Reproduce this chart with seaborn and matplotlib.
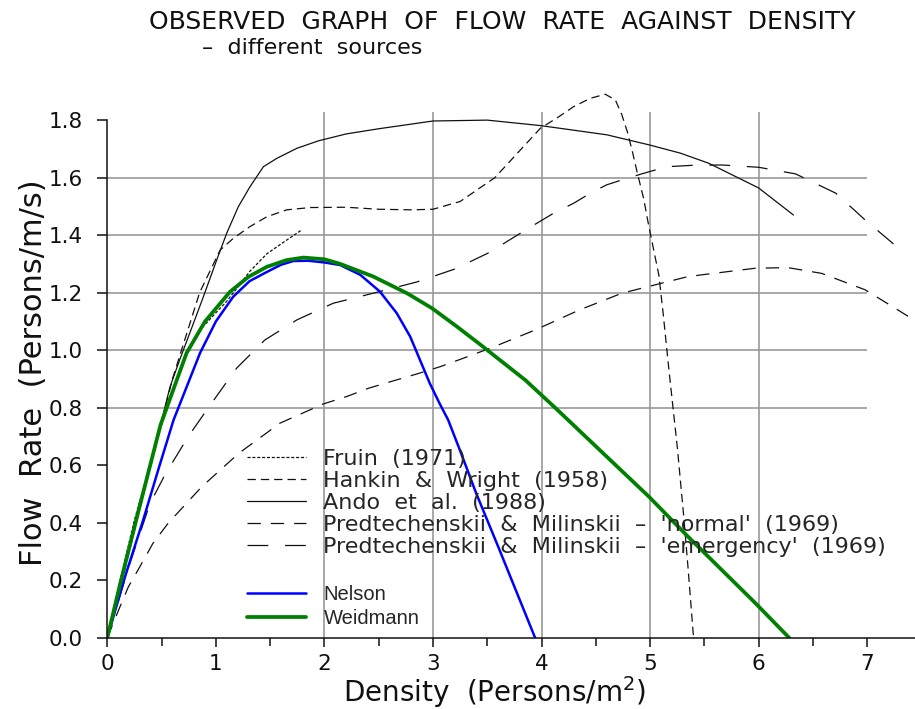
import matplotlib
matplotlib.use("Agg")
import matplotlib.pyplot as plt
import seaborn as sns
from matplotlib.ticker import MultipleLocator, FixedLocator

# ---------------- data ----------------
fruin_x = [0, 0.1, 0.25, 0.5, 0.73, 0.854, 1.0, 1.1, 1.193, 1.315, 1.469, 1.622, 1.79]
fruin_y = [0, 0.17, 0.41, 0.74, 0.99, 1.07, 1.13, 1.17, 1.215, 1.275, 1.335, 1.375, 1.418]

hankin_x = [0, 0.15, 0.3, 0.6, 0.85, 1.039, 1.161, 1.315, 1.469, 1.653, 1.87, 2.2, 2.5, 2.8,
            3.0, 3.25, 3.57, 3.99, 4.14, 4.296, 4.45, 4.587, 4.68, 4.74, 4.79, 4.837, 4.883,
            4.94, 4.986, 5.03, 5.08, 5.12, 5.175, 5.25, 5.31, 5.35, 5.4]
hankin_y = [0, 0.22, 0.45, 0.9, 1.2, 1.348, 1.389, 1.43, 1.464, 1.488, 1.496, 1.497, 1.49, 1.488,
            1.49, 1.517, 1.60, 1.772, 1.807, 1.847, 1.876, 1.89, 1.87, 1.818, 1.76, 1.69, 1.615,
            1.528, 1.435, 1.354, 1.262, 1.128, 0.925, 0.664, 0.42, 0.24, 0.0]

ando_x = [0, 0.15, 0.3, 0.45, 0.578, 0.67, 0.775, 0.885, 1.008, 1.10, 1.207, 1.315, 1.438,
          1.561, 1.746, 1.945, 2.2, 2.5, 3.0, 3.5, 3.99, 4.6, 4.99, 5.28, 5.54, 6.0, 6.32]
ando_y = [0, 0.24, 0.47, 0.68, 0.873, 0.97, 1.075, 1.186, 1.314, 1.407, 1.499, 1.569, 1.638,
          1.667, 1.702, 1.728, 1.752, 1.77, 1.797, 1.8, 1.781, 1.749, 1.714, 1.685, 1.65, 1.564, 1.47]

pm_normal_x = [0, 0.117, 0.194, 0.30, 0.42, 0.56, 0.716, 0.87, 1.04, 1.21, 1.59, 1.99, 2.2,
               2.41, 2.66, 2.85, 3.07, 3.28, 3.55, 3.94, 4.35, 4.74, 5.35, 5.97, 6.27, 6.58,
               6.98, 7.38]
pm_normal_y = [0, 0.108, 0.177, 0.247, 0.328, 0.398, 0.462, 0.525, 0.583, 0.641, 0.746, 0.813,
               0.838, 0.868, 0.896, 0.917, 0.943, 0.972, 1.01, 1.07, 1.14, 1.198, 1.256, 1.285,
               1.287, 1.267, 1.21, 1.117]

pm_emerg_x = [0, 0.2, 0.394, 0.53, 0.746, 0.916, 1.19, 1.45, 1.745, 2.08, 2.47, 2.85, 3.2,
              3.51, 3.88, 4.11, 4.296, 4.45, 4.60, 4.79, 4.94, 5.156, 5.4, 5.66, 6.0, 6.34,
              6.71, 6.98, 7.34]
pm_emerg_y = [0, 0.25, 0.467, 0.566, 0.70, 0.792, 0.937, 1.035, 1.105, 1.163, 1.2, 1.237, 1.282,
              1.338, 1.424, 1.476, 1.511, 1.546, 1.575, 1.598, 1.615, 1.638, 1.643, 1.644, 1.636,
              1.613, 1.546, 1.453, 1.338]

nelson_x = [0, 0.163, 0.33, 0.478, 0.61, 0.854, 1.0, 1.16, 1.31, 1.47, 1.6, 1.714, 1.85, 2.0,
            2.145, 2.33, 2.51, 2.667, 2.79, 2.88, 2.97, 3.06, 3.14, 3.25, 3.4, 3.6, 3.94]
nelson_y = [0, 0.212, 0.409, 0.595, 0.757, 0.99, 1.10, 1.186, 1.24, 1.272, 1.297, 1.31, 1.311,
            1.305, 1.296, 1.262, 1.204, 1.128, 1.047, 0.966, 0.885, 0.815, 0.757, 0.65, 0.5,
            0.317, 0.0]

weidmann_x = [0, 0.12, 0.3, 0.49, 0.73, 0.9, 1.13, 1.3, 1.47, 1.65, 1.806, 2.0, 2.145, 2.45,
              2.76, 2.99, 3.22, 3.42, 3.85, 4.13, 4.99, 5.35, 5.97, 6.28]
weidmann_y = [0, 0.19, 0.46, 0.74, 0.99, 1.1, 1.203, 1.255, 1.29, 1.313, 1.322, 1.316, 1.30,
              1.256, 1.198, 1.146, 1.082, 1.024, 0.896, 0.798, 0.49, 0.351, 0.12, 0.0]

labels = ["Fruin  (1971)",
          "Hankin  &  Wright  (1958)",
          "Ando  et  al.  (1988)",
          "Predtechenskii  &  Milinskii  \u2013  'normal'  (1969)",
          "Predtechenskii  &  Milinskii  \u2013  'emergency'  (1969)"]
model_labels = ["Nelson", "Weidmann"]

x_ticks = [0, 1, 2, 3, 4, 5, 6, 7]
y_ticks = [0.0, 0.2, 0.4, 0.6, 0.8, 1.0, 1.2, 1.4, 1.6, 1.8]
y_tick_labels = ["0.0", "0.2", "0.4", "0.6", "0.8", "1.0", "1.2", "1.4", "1.6", "1.8"]

# ---------------- style ----------------
sns.set_style("white")
plt.rcParams["font.family"] = ["DejaVu Sans"]
plt.rcParams["lines.scale_dashes"] = False
plt.rcParams["mathtext.fontset"] = "dejavusans"

fig = plt.figure(figsize=(9.15, 7.09), dpi=100)
ax = fig.add_axes([0.1173, 0.1006, 0.8827, 0.7908])
ax.set_xlim(0, 7.44)
ax.set_ylim(0, 1.95)

grid_c = "#9a9a9a"
ax.hlines([0.8, 1.0, 1.2, 1.4, 1.6], 0, 7, colors=grid_c, linewidth=1.2, zorder=0)
ax.vlines([2, 3, 4, 5, 6], 0, 1.83, colors=grid_c, linewidth=1.2, zorder=0)

blk = "#111111"
series = [
    (fruin_x, fruin_y, (0, (2.2, 1.3))),
    (hankin_x, hankin_y, (0, (6.0, 3.6))),
    (ando_x, ando_y, "-"),
    (pm_normal_x, pm_normal_y, (0, (9.6, 7.2))),
    (pm_emerg_x, pm_emerg_y, (0, (15.0, 12.0))),
]
handles = []
for xs, ys, ls in series:
    sns.lineplot(x=xs, y=ys, ax=ax, color=blk, linewidth=0.9, linestyle=ls,
                 sort=False, estimator=None)
    handles.append(ax.lines[-1])

sns.lineplot(x=nelson_x, y=nelson_y, ax=ax, color="#0000ff", linewidth=1.8,
             sort=False, estimator=None)
h_nelson = ax.lines[-1]
sns.lineplot(x=weidmann_x, y=weidmann_y, ax=ax, color="#008000", linewidth=2.7,
             sort=False, estimator=None)
h_weid = ax.lines[-1]

# ---------------- axes ----------------
for s in ["top", "right"]:
    ax.spines[s].set_visible(False)
for s in ["left", "bottom"]:
    ax.spines[s].set_color(blk)
    ax.spines[s].set_linewidth(1.1)
ax.spines["left"].set_bounds(0, 1.8)

ax.xaxis.set_major_locator(FixedLocator(x_ticks))
ax.xaxis.set_minor_locator(MultipleLocator(0.5))
ax.set_xticklabels([str(t) for t in x_ticks])
ax.yaxis.set_major_locator(FixedLocator(y_ticks))
ax.set_yticklabels(y_tick_labels)
ax.tick_params(axis="y", direction="out", length=7.2, width=1.1, pad=10.5,
               labelsize=15.5, colors=blk, left=True)
ax.tick_params(axis="x", which="major", direction="out", length=6.5, width=1.1, pad=5,
               labelsize=15.5, colors=blk, bottom=True)
ax.tick_params(axis="x", which="minor", direction="out", length=5.5, width=1.1,
               colors=blk, bottom=True)

ax.set_xlabel("Density  (Persons/m$^2$)", fontsize=20, color=blk, va="center")
ax.xaxis.set_label_coords(0.479, -0.097)
ax.set_ylabel("Flow  Rate  (Persons/m/s)", fontsize=22, color=blk, va="center")
ax.yaxis.set_label_coords(-0.092, 0.472)

fig.text(502 / 915, 1 - 22 / 709, "OBSERVED  GRAPH  OF  FLOW  RATE  AGAINST  DENSITY",
         ha="center", va="center", fontsize=18, color=blk)
fig.text(312 / 915, 1 - 48 / 709, "\u2013  different  sources",
         ha="center", va="center", fontsize=16, color=blk)

# ---------------- legends ----------------
leg1 = ax.legend(handles, labels, loc="upper left", bbox_to_anchor=(0.173, 0.3366),
                 frameon=False, fontsize=16, handlelength=2.65, handletextpad=0.78,
                 labelspacing=0.085, borderpad=0, borderaxespad=0)
ax.add_artist(leg1)
leg2 = ax.legend([h_nelson, h_weid], model_labels, loc="upper left",
                 bbox_to_anchor=(0.173, 0.0946), frameon=False,
                 prop={"family": "Liberation Sans", "size": 14.5},
                 handlelength=2.95, handletextpad=0.85, labelspacing=0.25,
                 borderpad=0, borderaxespad=0)

fig.savefig("out.png", dpi=100)
